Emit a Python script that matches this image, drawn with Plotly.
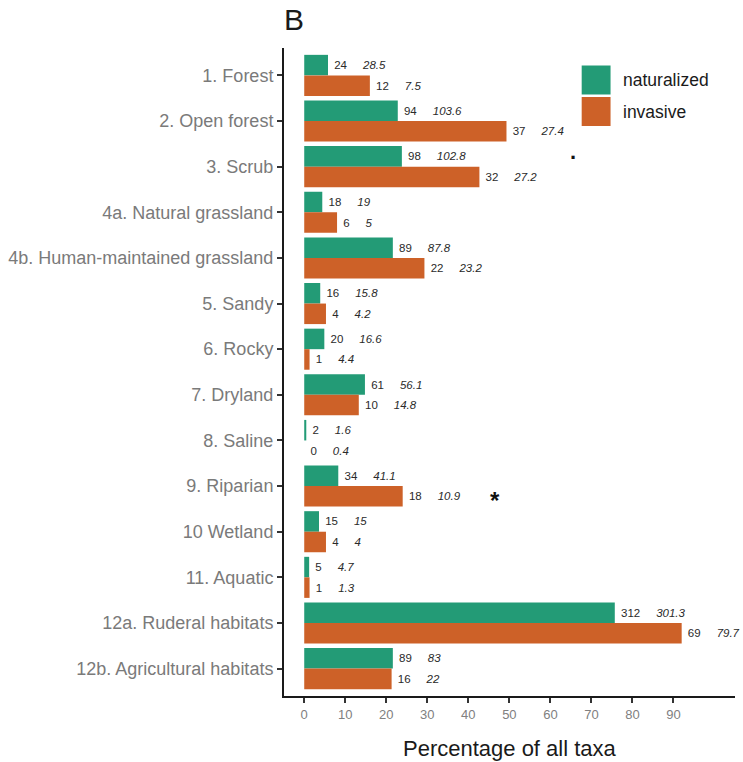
import plotly.graph_objects as go

# ---------------- data ----------------
habitats = [
    "1. Forest", "2. Open forest", "3. Scrub", "4a. Natural grassland",
    "4b. Human-maintained grassland", "5. Sandy", "6. Rocky", "7. Dryland",
    "8. Saline", "9. Riparian", "10 Wetland", "11. Aquatic",
    "12a. Ruderal habitats", "12b. Agricultural habitats",
]
nat_count = [24, 94, 98, 18, 89, 16, 20, 61, 2, 34, 15, 5, 312, 89]
nat_expected = ["28.5", "103.6", "102.8", "19", "87.8", "15.8", "16.6", "56.1",
                "1.6", "41.1", "15", "4.7", "301.3", "83"]
nat_pct = [5.8, 22.8, 23.8, 4.4, 21.6, 3.9, 4.9, 14.8, 0.5, 8.3, 3.6, 1.2, 75.7, 21.6]

inv_count = [12, 37, 32, 6, 22, 4, 1, 10, 0, 18, 4, 1, 69, 16]
inv_expected = ["7.5", "27.4", "27.2", "5", "23.2", "4.2", "4.4", "14.8",
                "0.4", "10.9", "4", "1.3", "79.7", "22"]
inv_pct = [16.0, 49.3, 42.7, 8.0, 29.3, 5.3, 1.3, 13.3, 0.0, 24.0, 5.3, 1.3, 92.0, 21.3]

# significance markers
sig_habitat = ["3. Scrub", "9. Riparian"]
sig_x = [65.5, 46.5]
sig_label = [".", "*"]

x_ticks = [0, 10, 20, 30, 40, 50, 60, 70, 80, 90]

# ---------------- style ----------------
GREEN = "#239B76"
ORANGE = "#CD6128"
FONT = "Liberation Sans, Arial, Helvetica, sans-serif"
W, H = 743, 762
L, R, T, B = 282, 8, 48, 66
PW, PH = W - L - R, H - T - B

def px_x(px):
    return (px - L) / PW

def px_y(py):
    return 1 - (py - T) / PH

gap = "\u00a0" * 5
nat_text = [f"\u00a0{c}{gap}<i>{e}</i>" for c, e in zip(nat_count, nat_expected)]
inv_text = [f"\u00a0{c}{gap}<i>{e}</i>" for c, e in zip(inv_count, inv_expected)]

fig = go.Figure()
fig.add_trace(go.Bar(
    y=habitats, x=nat_pct, orientation="h", name="naturalized",
    marker=dict(color=GREEN, line=dict(width=0)),
    text=nat_text, textposition="outside", cliponaxis=False,
    textfont=dict(size=11.5, color="#2a2a2a", family=FONT),
    constraintext="none", showlegend=False,
))
fig.add_trace(go.Bar(
    y=habitats, x=inv_pct, orientation="h", name="invasive",
    marker=dict(color=ORANGE, line=dict(width=0)),
    text=inv_text, textposition="outside", cliponaxis=False,
    textfont=dict(size=11.5, color="#2a2a2a", family=FONT),
    constraintext="none", showlegend=False,
))

annotations = []
for hab, xv, lab in zip(sig_habitat, sig_x, sig_label):
    if lab == ".":
        annotations.append(dict(x=xv, y=hab, xref="x", yref="y", text="<b>.</b>",
                                showarrow=False, font=dict(size=22, color="#111", family=FONT),
                                yshift=15))
    else:
        annotations.append(dict(x=xv, y=hab, xref="x", yref="y", text="<b>*</b>",
                                showarrow=False, font=dict(size=24, color="#111", family=FONT),
                                yshift=-14))

# axis title
annotations.append(dict(x=0.5, xref="paper", y=px_y(748), yref="paper",
                        text="Percentage of all taxa", showarrow=False,
                        font=dict(size=22, color="#1a1a1a", family=FONT),
                        xanchor="center", yanchor="middle"))
# panel letter
annotations.append(dict(x=px_x(280), xref="paper", y=px_y(19.5), yref="paper",
                        text="B", showarrow=False,
                        font=dict(size=30, color="#1a1a1a", family=FONT),
                        xanchor="left", yanchor="middle"))
# legend labels
for lab, yc in [("naturalized", 80), ("invasive", 111.5)]:
    annotations.append(dict(x=px_x(620), xref="paper", y=px_y(yc), yref="paper",
                            text=lab, showarrow=False,
                            font=dict(size=17.5, color="#1a1a1a", family=FONT),
                            xanchor="left", yanchor="middle"))

shapes = [
    dict(type="rect", xref="paper", yref="paper",
         x0=px_x(581), x1=px_x(610), y0=px_y(94.5), y1=px_y(65.5),
         fillcolor=GREEN, line=dict(width=0)),
    dict(type="rect", xref="paper", yref="paper",
         x0=px_x(581), x1=px_x(610), y0=px_y(126), y1=px_y(97),
         fillcolor=ORANGE, line=dict(width=0)),
]

fig.update_layout(
    width=W, height=H,
    margin=dict(l=L, r=R, t=T, b=B, pad=0),
    paper_bgcolor="white", plot_bgcolor="white",
    barmode="group", bargap=0.1, bargroupgap=0,
    font=dict(family=FONT),
    annotations=annotations, shapes=shapes,
    showlegend=False,
)
fig.update_xaxes(
    range=[-4.93, 105], tickvals=x_ticks, ticktext=[str(t) for t in x_ticks],
    showgrid=False, zeroline=False,
    showline=True, linecolor="#1a1a1a", linewidth=2,
    ticks="outside", ticklen=5, tickwidth=1.5, tickcolor="#333333",
    tickfont=dict(size=13, color="#808080", family=FONT),
)
fig.update_yaxes(
    categoryorder="array", categoryarray=habitats,
    range=[13.6, -0.6],
    showgrid=False, zeroline=False,
    showline=True, linecolor="#1a1a1a", linewidth=2,
    ticks="outside", ticklen=5, tickwidth=1.5, tickcolor="#333333",
    tickfont=dict(size=18, color="#7a7a7a", family=FONT),
)

fig.write_html("out.html", config={"displayModeBar": False},
               post_script="document.body.style.margin='0';document.body.style.overflow='hidden';")
